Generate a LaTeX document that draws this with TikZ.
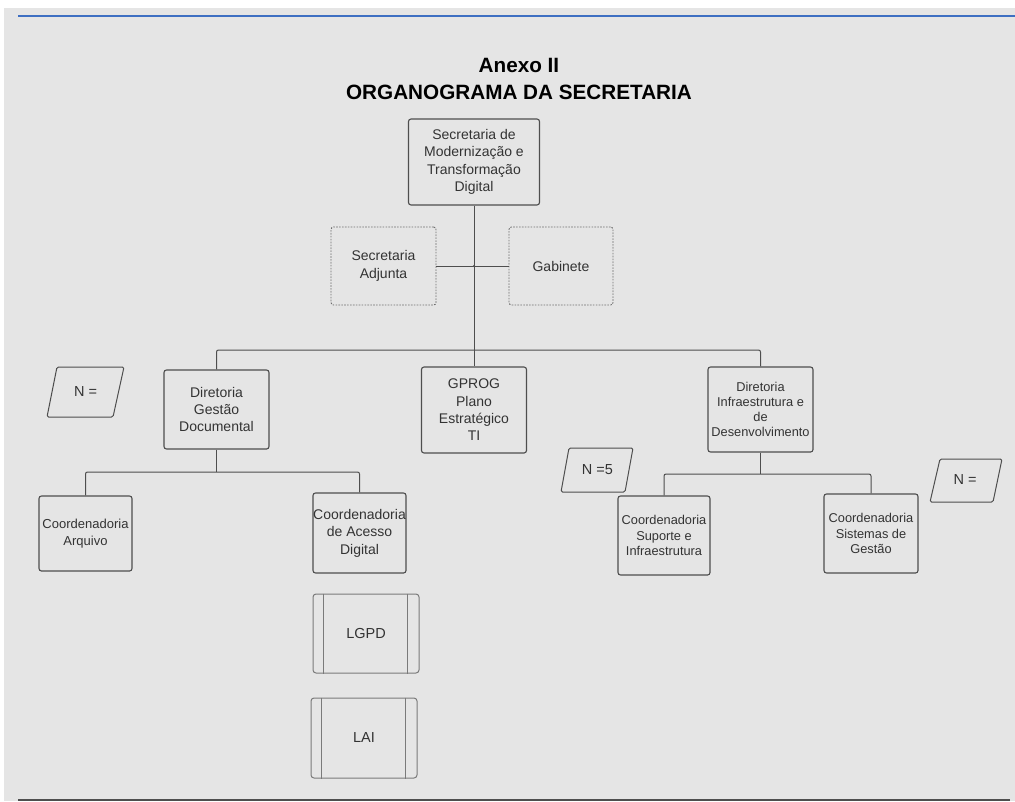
\documentclass[tikz,border=0pt]{standalone}
\usepackage{fontspec}
\setmainfont{Liberation Sans}
\definecolor{bgc}{HTML}{E5E5E5}
\definecolor{edge}{HTML}{4E4E4E}
\definecolor{txt}{HTML}{333333}
\definecolor{dotc}{HTML}{6E6E6E}
\definecolor{procc}{HTML}{7A7A7A}
\definecolor{rule}{HTML}{3E6FC2}
\begin{document}
\begin{tikzpicture}[x=1pt,y=-1pt,
  box/.style={draw=edge, line width=1.1pt, rounded corners=2.5pt, align=center,
    inner sep=0pt, text=txt},
  dotbox/.style={draw=dotc, line width=0.9pt, dash pattern=on 1.6pt off 1.3pt,
    rounded corners=2.5pt, align=center, inner sep=0pt, text=txt},
  procbox/.style={draw=procc, line width=1pt, rounded corners=3pt, align=center,
    inner sep=0pt, text=txt},
  procline/.style={draw=procc, line width=1pt},
  para/.style={draw=edge, line width=1pt, rounded corners=1.5pt},
  ptext/.style={text=txt, inner sep=0pt, font=\fontsize{14.5}{17}\selectfont},
  conn/.style={draw=edge, line width=1pt, rounded corners=2pt},
  fa/.style={font=\fontsize{14}{17.4}\selectfont},
  fb/.style={font=\fontsize{12.8}{15.2}\selectfont},
  fc/.style={font=\fontsize{13}{16.6}\selectfont},
  title/.style={font=\fontsize{20.7}{24}\selectfont\bfseries, text=black, anchor=base, inner sep=0pt}
]
\useasboundingbox (0,0) rectangle (1015,801);
\fill[white] (0,0) rectangle (1015,801);
\fill[bgc] (4,8) rectangle (1015,801);
\draw[rule, line width=2pt] (18,15.5) -- (1015,15.5);
\draw[edge, line width=2pt] (18,800) -- (1010,800);

% title
\node[title] (t1) at (519,72) {Anexo II};
\node[title] (t2) at (519,99) {ORGANOGRAMA DA SECRETARIA};

% top level
\node[box, fa, minimum width=131pt, minimum height=86pt] (sec) at (474,162)
  {Secretaria de\\Modernização e\\Transformação\\Digital};
\node[dotbox, fa, minimum width=105pt, minimum height=78pt] (adj) at (383.5,266)
  {Secretaria\\Adjunta};
\node[dotbox, fa, minimum width=104pt, minimum height=78pt] (gab) at (561,266)
  {Gabinete};

% directorates
\node[box, fa, minimum width=105pt, minimum height=79pt] (dgd) at (216.5,409.5)
  {Diretoria\\Gestão\\Documental};
\node[box, fa, minimum width=105pt, minimum height=86pt] (gprog) at (474,410)
  {GPROG\\Plano\\Estratégico\\TI};
\node[box, fb, minimum width=105pt, minimum height=85pt] (dir) at (760.5,409.5)
  {Diretoria\\Infraestrutura e\\de\\Desenvolvimento};

% coordinations
\node[box, fc, minimum width=93pt, minimum height=75pt] (arq) at (85.5,533.5)
  {Coordenadoria\\Arquivo};
\node[box, fa, minimum width=93pt, minimum height=80pt] (acd) at (359.5,533)
  {Coordenadoria\\de Acesso\\Digital};
\node[box, fb, minimum width=92pt, minimum height=79pt] (sup) at (664,535.5)
  {Coordenadoria\\Suporte e\\Infraestrutura};
\node[box, fb, minimum width=94pt, minimum height=79pt] (sis) at (871,533.5)
  {Coordenadoria\\Sistemas de\\Gestão};

% processes
\node[procbox, font=\fontsize{14.5}{17}\selectfont, minimum width=106pt, minimum height=79pt] (lgpd) at (366,633.5) {LGPD};
\draw[procline] ([xshift=11pt]lgpd.north west) -- ([xshift=11pt]lgpd.south west);
\draw[procline] ([xshift=-12pt]lgpd.north east) -- ([xshift=-12pt]lgpd.south east);
\node[procbox, font=\fontsize{14.5}{17}\selectfont, minimum width=106pt, minimum height=80pt] (lai) at (364,738) {LAI};
\draw[procline] ([xshift=11pt]lai.north west) -- ([xshift=11pt]lai.south west);
\draw[procline] ([xshift=-12pt]lai.north east) -- ([xshift=-12pt]lai.south east);

% quantity tags
\draw[para] (57,367) -- (124,367) -- (113,417) -- (47,417) -- cycle;
\node[ptext] (n1) at (85.5,392) {N =};
\draw[para] (569,448) -- (633,448) -- (625,492) -- (561,492) -- cycle;
\node[ptext] (n2) at (597.5,470) {N =5};
\draw[para] (940,459) -- (1002,459) -- (993,502) -- (930,502) -- cycle;
\node[ptext] (n3) at (965,480) {N =};

% connectors
\coordinate (hub) at (474,266);
\coordinate (bus) at (474,350);
\draw[conn] (sec.south) -- (gprog.north);
\draw[conn] (adj.east) -- (gab.west);
\fill[edge] (hub) circle (1.2pt);
\draw[conn] (dgd.north) |- (bus) -| (dir.north);
\coordinate (jl) at (216.5,472);
\draw[conn] (dgd.south) -- (jl);
\draw[conn] (arq.north) |- (jl) -| (acd.north);
\coordinate (jr) at (760.5,474);
\draw[conn] (dir.south) -- (jr);
\draw[conn] (sup.north) |- (jr) -| (sis.north);
\end{tikzpicture}
\end{document}
